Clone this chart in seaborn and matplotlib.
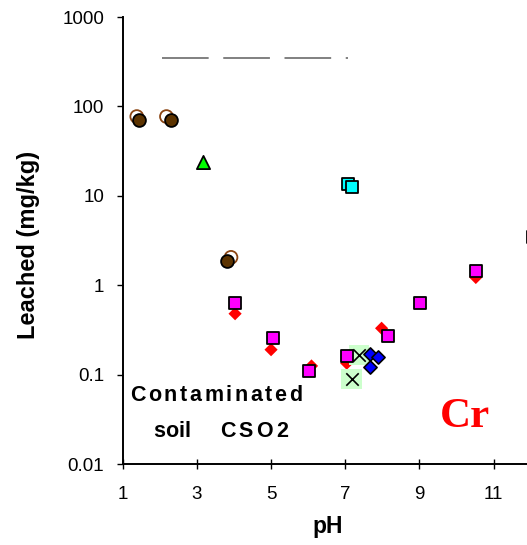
import numpy as np
import pandas as pd
import matplotlib
matplotlib.use("Agg")
import matplotlib.pyplot as plt
import seaborn as sns
from matplotlib.ticker import FixedLocator, NullLocator, FixedFormatter
from matplotlib.transforms import offset_copy

# ---- data ----
brown_fill_x = [1.44, 2.29, 3.81]
brown_fill_y = [70, 70, 1.85]
brown_open_x = [1.38, 2.18, 3.92]
brown_open_y = [77, 77, 2.05]
green_tri_x = [3.17]
green_tri_y = [23.6]
cyan_x = [7.08, 7.17]
cyan_y = [13.5, 12.7]
red_x = [4.03, 5.0, 6.09, 7.04, 7.98, 10.52]
red_y = [0.48, 0.19, 0.125, 0.134, 0.33, 1.22]
magenta_x = [4.03, 5.06, 6.03, 7.04, 8.14, 9.01, 10.52, 12.05]
magenta_y = [0.64, 0.26, 0.11, 0.162, 0.27, 0.64, 1.45, 3.5]
blue_x = [7.67, 7.89, 7.67]
blue_y = [0.169, 0.159, 0.122]
cross_x = [7.38, 7.17]
cross_y = [0.165, 0.089]
limit_x = [2.06, 7.07]
limit_y = [350, 350]

xticks = [1, 3, 5, 7, 9, 11]
yticks = [0.01, 0.1, 1, 10, 100, 1000]
ytick_labels = ["0.01", "0.1", "1", "10", "100", "1000"]

sns.set_theme(style="white")
plt.rcParams['font.family'] = ['Liberation Sans', 'DejaVu Sans']
plt.rcParams['text.color'] = 'black'
plt.rcParams['axes.labelcolor'] = 'black'

fig = plt.figure(figsize=(5.27, 5.45), dpi=100)
ax = fig.add_axes([0.2328, 0.1486, 0.7672, 0.8202])
ax.set_yscale("log")

df = lambda x, y: pd.DataFrame({"x": x, "y": y})

sns.lineplot(data=df(limit_x, limit_y), x="x", y="y", ax=ax, color="#808080",
             lw=1.4, dashes=False, zorder=2)
ax.lines[-1].set_dashes((24, 7.5))

sns.scatterplot(data=df(brown_open_x, brown_open_y), x="x", y="y", ax=ax, marker="o",
                s=85, facecolor="none", edgecolor="#8B4513", linewidth=1.3, zorder=3)
sns.scatterplot(data=df(brown_fill_x, brown_fill_y), x="x", y="y", ax=ax, marker="o",
                s=85, color="#5C3300", edgecolor="black", linewidth=1.3, zorder=4)
sns.scatterplot(data=df(green_tri_x, green_tri_y), x="x", y="y", ax=ax, marker="^",
                s=90, color="#00FF00", edgecolor="black", linewidth=1.3, zorder=4)
sns.scatterplot(data=df(cyan_x, cyan_y), x="x", y="y", ax=ax, marker="s",
                s=80, color="#00FFFF", edgecolor="black", linewidth=1.3, zorder=4)
sns.scatterplot(data=df(red_x, red_y), x="x", y="y", ax=ax, marker="D",
                s=45, color="#FF0000", edgecolor="none", linewidth=0, zorder=3)
sns.scatterplot(data=df(cross_x, cross_y), x="x", y="y", ax=ax, marker="s",
                s=210, color="#CCFFCC", edgecolor="none", linewidth=0, zorder=4)
sns.scatterplot(data=df(magenta_x, magenta_y), x="x", y="y", ax=ax, marker="s",
                s=80, color="#FF00FF", edgecolor="black", linewidth=1.3, zorder=5,
                clip_on=False)
sns.scatterplot(data=df(cross_x, cross_y), x="x", y="y", ax=ax, marker="x",
                s=80, color="black", linewidth=1.2, zorder=6)
sns.scatterplot(data=df(blue_x, blue_y), x="x", y="y", ax=ax, marker="D",
                s=45, color="#0000FF", edgecolor="black", linewidth=1.2, zorder=7)

ax.set_xlim(1, 11.9)
ax.set_ylim(0.01, 1000)
ax.xaxis.set_major_locator(FixedLocator(xticks))
ax.yaxis.set_major_locator(FixedLocator(yticks))
ax.yaxis.set_major_formatter(FixedFormatter(ytick_labels))
ax.yaxis.set_minor_locator(NullLocator())
ax.xaxis.set_minor_locator(NullLocator())

for side in ["top", "right"]:
    ax.spines[side].set_visible(False)
for side in ["left", "bottom"]:
    ax.spines[side].set_color("black")
    ax.spines[side].set_linewidth(1.4)

ax.tick_params(axis="y", direction="out", length=4.3, width=1, color="black",
               labelsize=13.5, labelcolor="black", left=True, pad=9)
ax.tick_params(axis="x", direction="inout", length=7.2, width=1, color="black",
               labelsize=13.5, labelcolor="black", bottom=True, pad=12)

ax.set_xlabel("pH", fontsize=16.5, fontweight="bold")
ax.set_ylabel("Leached (mg/kg)", fontsize=17, fontweight="bold")
ax.xaxis.set_label_coords(0.508, -0.113)
ax.yaxis.set_label_coords(-0.205, 0.49)

renderer = fig.canvas.get_renderer()


def spaced_text(x, y, s, spacing_px, **kw):
    """Draw a letter-spaced string starting at data (x, y)."""
    dx = 0.0
    for ch in s:
        tr = offset_copy(ax.transData, fig=fig, x=dx * 72 / fig.dpi, y=0, units="points")
        t = ax.text(x, y, ch, transform=tr, ha="left", va="baseline", **kw)
        w = t.get_window_extent(renderer).width
        dx += w + spacing_px


spaced_text(1.2, 0.0508, "Contaminated", 2.6, fontsize=15.5, fontweight="bold")
spaced_text(1.82, 0.01995, "soil", 0.0, fontsize=15.5, fontweight="bold")
spaced_text(3.62, 0.01995, "CSO2", 3.4, fontsize=15.5, fontweight="bold")
ax.text(9.55, 0.0258, "Cr", fontsize=31, fontweight="bold", color="#FF0000",
        family=["Liberation Serif", "DejaVu Serif"], ha="left", va="baseline")

fig.savefig("out.png", dpi=100)
